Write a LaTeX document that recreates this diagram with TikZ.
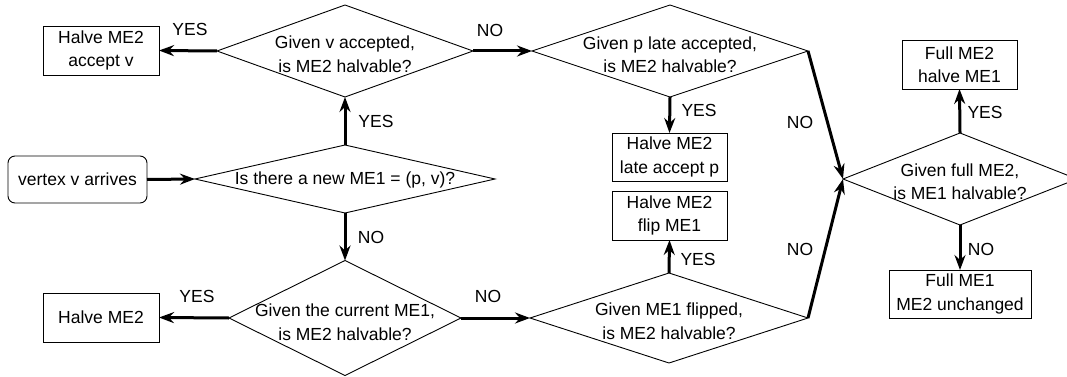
\documentclass[tikz,border=0pt]{standalone}
\usepackage{fontspec}
\setmainfont{Liberation Sans}
\usetikzlibrary{shapes.geometric,arrows.meta}
\begin{document}
\begin{tikzpicture}[x=1pt,y=-1pt,
  every node/.style={font=\fontsize{17.5pt}{23.5pt}\selectfont},
  box/.style={draw,line width=0.9pt,rectangle,inner sep=0pt,outer sep=0pt,align=center},
  dia/.style={draw,line width=0.9pt,diamond,inner sep=0pt,outer sep=0pt},
  dtext/.style={align=center,inner sep=0pt},
  lab/.style={inner sep=0pt},
  flow/.style={line width=3pt,-{Stealth[length=15pt,width=11pt,inset=5pt]}}]
\useasboundingbox (0,0) rectangle (1067,377);
% boxes
\node[box,minimum width=116pt,minimum height=49pt] (acc) at (101,50.5) {Halve ME2\\accept v};
\node[box,rounded corners=7pt,minimum width=139pt,minimum height=47pt] (vtx) at (77.5,179.5) {vertex v arrives};
\node[box,minimum width=116pt,minimum height=49pt] (hm) at (101,317.5) {Halve ME2};
\node[box,minimum width=115pt,minimum height=48pt] (late) at (669.5,157) {Halve ME2\\late accept p};
\node[box,minimum width=115pt,minimum height=49pt] (flip) at (669.5,215.5) {Halve ME2\\flip ME1};
\node[box,minimum width=115pt,minimum height=49pt] (full2) at (959.5,64.5) {Full ME2\\halve ME1};
\node[box,minimum width=142pt,minimum height=48pt] (full1) at (960,294) {Full ME1\\ME2 unchanged};
% diamonds
\node[dia,minimum width=256pt,minimum height=92pt] (d1) at (345,51) {};
\node[dia,minimum width=300pt,minimum height=68pt] (d0) at (345,179) {};
\node[dia,minimum width=232pt,minimum height=115pt] (d2) at (345,318) {};
\node[dia,minimum width=276pt,minimum height=92pt] (d3) at (670,51) {};
\node[dia,minimum width=278pt,minimum height=90pt] (d4) at (669,318) {};
\node[dia,minimum width=234pt,minimum height=92pt] (d5) at (960,179) {};
\node[dtext] (t1) at (345,54) {Given v accepted,\\is ME2 halvable?};
\node[dtext] (t0) at (345,180) {Is there a new ME1 = (p, v)?};
\node[dtext] (t2) at (345,322) {Given the current ME1,\\is ME2 halvable?};
\node[dtext] (t3) at (670,54.5) {Given p late accepted,\\is ME2 halvable?};
\node[dtext] (t4) at (669,321) {Given ME1 flipped,\\is ME2 halvable?};
\node[dtext] (t5) at (960,181.5) {Given full ME2,\\is ME1 halvable?};
% connectors
\draw[flow] (vtx.east) -- (d0.west);
\draw[flow] (d0.north) -- (d1.south);
\draw[flow] (d1.west) -- (acc.east);
\draw[flow] (d1.east) -- (d3.west);
\draw[flow] (d3.south) -- (late.north);
\draw[flow] (d3.east) -- (d5.west);
\draw[flow] (d0.south) -- (d2.north);
\draw[flow] (d2.west) -- (hm.east);
\draw[flow] (d2.east) -- (d4.west);
\draw[flow] (d4.north) -- (flip.south);
\draw[flow] (d4.east) -- (d5.west);
\draw[flow] (d5.north) -- (full2.south);
\draw[flow] (d5.south) -- (full1.north);
% labels
\node[lab] (l1) at (190,29) {YES};
\node[lab] (l2) at (490,30) {NO};
\node[lab] (l3) at (376,121) {YES};
\node[lab] (l4) at (699,110) {YES};
\node[lab] (l5) at (800,122) {NO};
\node[lab] (l6) at (371,237) {NO};
\node[lab] (l7) at (197,296) {YES};
\node[lab] (l8) at (488,296) {NO};
\node[lab] (l9) at (698,259) {YES};
\node[lab] (l10) at (800,249) {NO};
\node[lab] (l11) at (985,112) {YES};
\node[lab] (l12) at (981,249) {NO};
\end{tikzpicture}
\end{document}
